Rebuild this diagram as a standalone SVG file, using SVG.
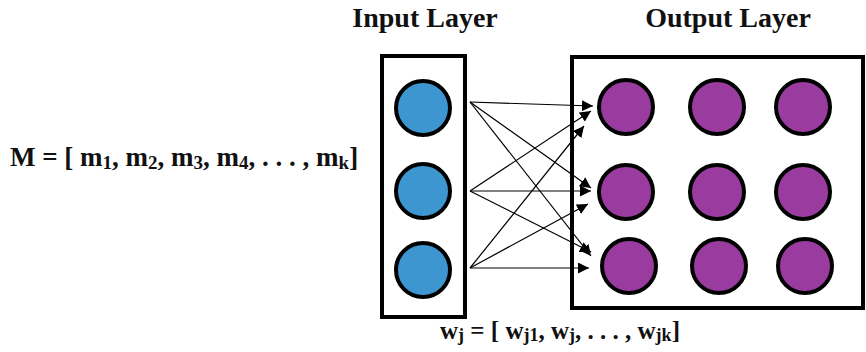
<svg xmlns="http://www.w3.org/2000/svg" width="866" height="352" viewBox="0 0 866 352">
<defs>
<marker id="ah" viewBox="0 0 10 10" refX="10" refY="5" markerWidth="11" markerHeight="11" markerUnits="userSpaceOnUse" orient="auto">
<path d="M0,0 L10,5 L0,10 z" fill="#000"/>
</marker>
<style>
.t{font-family:"Liberation Serif","Times New Roman",serif;font-weight:bold;fill:#111}
.box{fill:#fff;stroke:#000;stroke-width:4}
.in{fill:#3d96cf;stroke:#000;stroke-width:4}
.out{fill:#9a3c9f;stroke:#000;stroke-width:4}
.c line{stroke:#000;stroke-width:1.2;marker-end:url(#ah)}
</style>
</defs>
<rect width="866" height="352" fill="#fff"/>
<text class="t" x="425" y="27" font-size="28" text-anchor="middle">Input Layer</text>
<text class="t" x="728" y="27" font-size="28" text-anchor="middle">Output Layer</text>
<text class="t" x="10" y="166" font-size="27">M = [ m<tspan font-size="19" dy="3">1</tspan><tspan dy="-3">, m</tspan><tspan font-size="19" dy="3">2</tspan><tspan dy="-3">, m</tspan><tspan font-size="19" dy="3">3</tspan><tspan dy="-3">, m</tspan><tspan font-size="19" dy="3">4</tspan><tspan dy="-3">, . . . , m</tspan><tspan font-size="19" dy="3">k</tspan><tspan dy="-3">]</tspan></text>
<text class="t" x="560" y="339" font-size="25" text-anchor="middle">w<tspan font-size="18" dy="2">j</tspan><tspan dy="-2"> = [ w</tspan><tspan font-size="18" dy="2">j1</tspan><tspan dy="-2">, w</tspan><tspan font-size="18" dy="2">j</tspan><tspan dy="-2">, . . . , w</tspan><tspan font-size="18" dy="2">jk</tspan><tspan dy="-2">]</tspan></text>
<g id="input-layer">
<rect class="box" x="382" y="56" width="83" height="261"/>
<circle class="in" cx="423" cy="108" r="27"/>
<circle class="in" cx="423" cy="191" r="27"/>
<circle class="in" cx="423" cy="270" r="27"/>
</g>
<g id="output-layer">
<rect class="box" x="572" y="57" width="291" height="251"/>
<circle class="out" cx="626" cy="107" r="27"/>
<circle class="out" cx="717" cy="107" r="27"/>
<circle class="out" cx="803" cy="107" r="27"/>
<circle class="out" cx="626" cy="192" r="27"/>
<circle class="out" cx="717" cy="192" r="27"/>
<circle class="out" cx="803" cy="192" r="27"/>
<circle class="out" cx="629" cy="266" r="27"/>
<circle class="out" cx="719" cy="266" r="27"/>
<circle class="out" cx="805" cy="266" r="27"/>
</g>
<g id="connectors" class="c">
<line x1="470" y1="102" x2="593" y2="106"/>
<line x1="470" y1="102" x2="591" y2="188"/>
<line x1="470" y1="102" x2="591" y2="256"/>
<line x1="470" y1="191" x2="591" y2="111"/>
<line x1="470" y1="191" x2="591" y2="191"/>
<line x1="470" y1="191" x2="591" y2="252"/>
<line x1="470" y1="268" x2="584" y2="126"/>
<line x1="470" y1="268" x2="588" y2="204"/>
<line x1="470" y1="268" x2="589" y2="268"/>
</g>
</svg>
